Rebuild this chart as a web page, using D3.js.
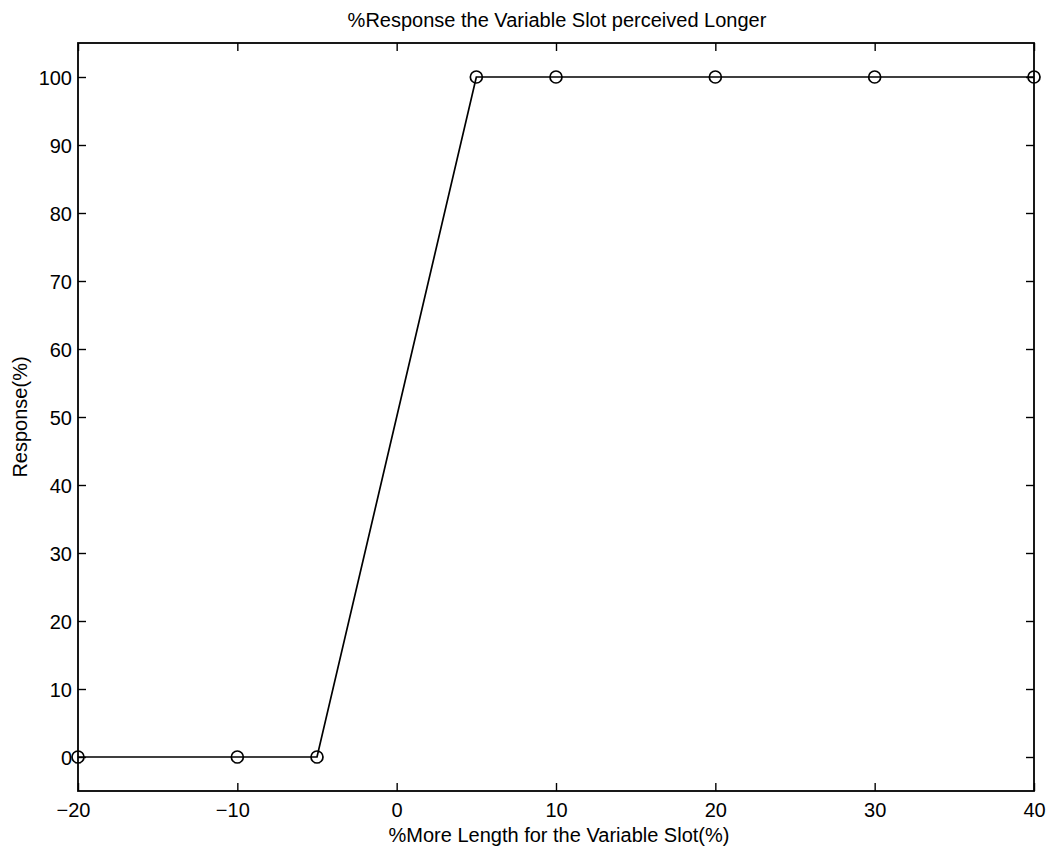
<!DOCTYPE html>
<html><head><meta charset="utf-8">
<script src="https://cdn.jsdelivr.net/npm/d3@7"></script>
<style>body{margin:0;background:#fff;} text{font-family:"Liberation Sans",Arial,sans-serif;fill:#000;}</style>
</head><body>
<svg id="c" width="1050" height="852"></svg>
<script>
const xValues = [-20, -10, -5, 5, 10, 20, 30, 40];
const yValues = [0, 0, 0, 100, 100, 100, 100, 100];
const xTicks = [-20, -10, 0, 10, 20, 30, 40];
const yTicks = [0, 10, 20, 30, 40, 50, 60, 70, 80, 90, 100];
const titleText = "%Response the Variable Slot perceived Longer";
const xLabel = "%More Length for the Variable Slot(%)";
const yLabel = "Response(%)";

(function () {
const svg = d3.select("#c");
const L = 78, R = 1034, T = 43, B = 791;
const FS = 20;
const x = d3.scaleLinear().domain([-20, 40]).range([L, R]);
const y = d3.scaleLinear().domain([-5, 105]).range([B, T]);
const fmt = d => d < 0 ? "\u2212" + Math.abs(d) : String(d);

svg.append("rect").attr("x", L).attr("y", T).attr("width", R - L).attr("height", B - T)
  .attr("fill", "none").attr("stroke", "#000").attr("stroke-width", 1.8);

const tl = 8;
const gB = svg.append("g").attr("transform", `translate(0,${B})`)
  .call(d3.axisBottom(x).tickValues(xTicks).tickSizeInner(-tl).tickSizeOuter(0).tickFormat(fmt));
const gT = svg.append("g").attr("transform", `translate(0,${T})`)
  .call(d3.axisTop(x).tickValues(xTicks).tickSizeInner(-tl).tickSizeOuter(0).tickFormat(""));
const gL = svg.append("g").attr("transform", `translate(${L},0)`)
  .call(d3.axisLeft(y).tickValues(yTicks).tickSizeInner(-tl).tickSizeOuter(0).tickPadding(6).tickFormat(fmt));
const gR = svg.append("g").attr("transform", `translate(${R},0)`)
  .call(d3.axisRight(y).tickValues(yTicks).tickSizeInner(-tl).tickSizeOuter(0).tickFormat(""));
[gB, gT, gL, gR].forEach(g => {
  g.select(".domain").remove();
  g.attr("font-size", null).attr("font-family", null);
  g.selectAll("line").attr("stroke", "#000").attr("stroke-width", 1.4);
  g.selectAll("text").style("font-size", FS + "px").style("font-family", "'Liberation Sans',Arial,sans-serif").attr("fill", "#000");
});
gB.selectAll("text").attr("dy", null).attr("y", 26).attr("dx", d => d < 0 ? -5 : 0);
gL.selectAll("text").attr("dy", "0.36em");

const line = d3.line().x((d, i) => x(xValues[i])).y((d, i) => y(d));
svg.append("path").datum(yValues).attr("d", line).attr("fill", "none").attr("stroke", "#000").attr("stroke-width", 1.7);

svg.selectAll("circle.m").data(yValues).enter().append("circle").attr("class", "m")
  .attr("cx", (d, i) => x(xValues[i])).attr("cy", d => y(d)).attr("r", 6)
  .attr("fill", "none").attr("stroke", "#000").attr("stroke-width", 1.7);

svg.append("text").attr("x", 557).attr("y", 27).attr("text-anchor", "middle").style("font-size", "20px").text(titleText);
svg.append("text").attr("x", 559).attr("y", 842).attr("text-anchor", "middle").style("font-size", FS + "px").text(xLabel);
svg.append("text").attr("transform", `translate(27,${(T + B) / 2}) rotate(-90)`).attr("text-anchor", "middle").style("font-size", FS + "px").text(yLabel);
})();
</script>
</body></html>
